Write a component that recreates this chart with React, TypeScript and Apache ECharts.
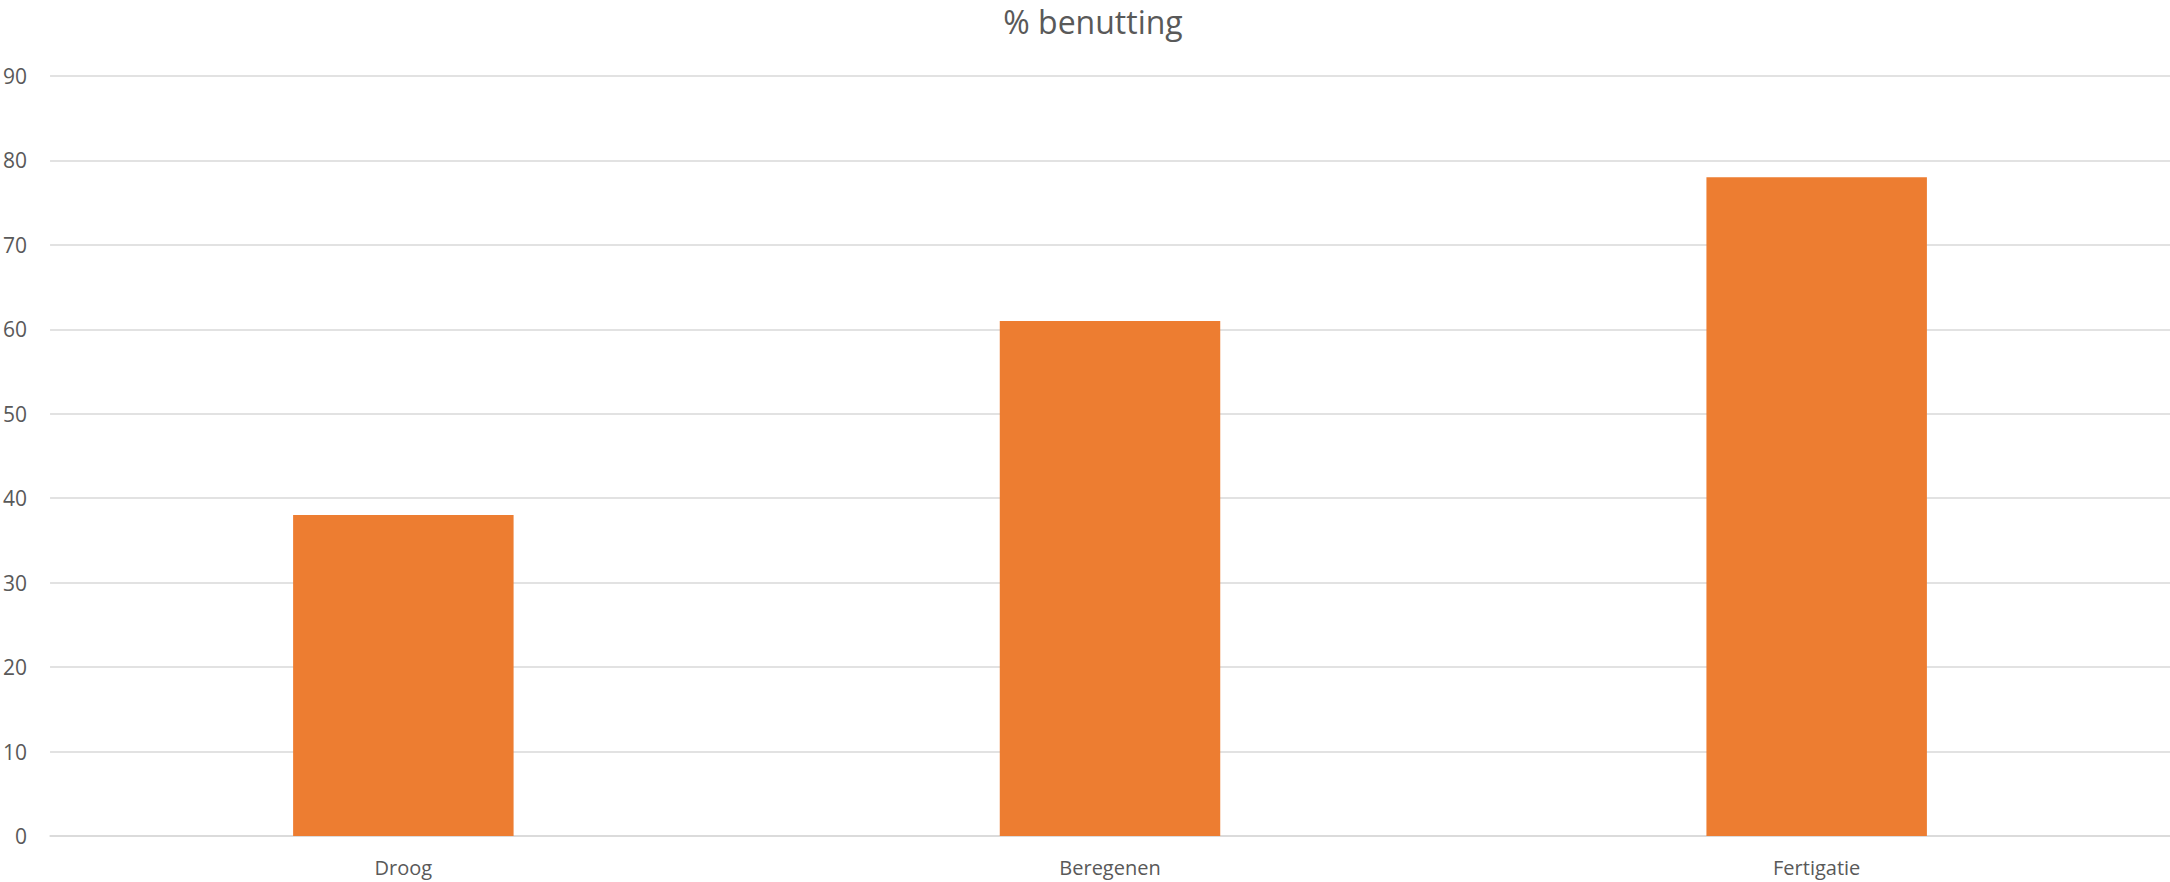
import React, { useEffect, useRef } from "react";
import * as echarts from "echarts";

const titleText = "% benutting";
const categories = ["Droog", "Beregenen", "Fertigatie"];
const values = [38, 61, 78];
const yMin = 0;
const yMax = 90;
const yInterval = 10;

const FONT = "'Open Sans', 'Noto Sans', sans-serif";
const TEXT = "#595959";
const GRID = "#d9d9d9";
const BAR = "#ED7D31";

export default function App() {
  const ref = useRef<HTMLDivElement | null>(null);
  useEffect(() => {
    if (!ref.current) return;
    const chart = echarts.init(ref.current, undefined, { renderer: "svg" });
    chart.setOption({
      animation: false,
      backgroundColor: "#ffffff",
      textStyle: { fontFamily: FONT },
      graphic: [
        {
          type: "text",
          x: 1093,
          y: 21,
          style: {
            text: titleText,
            fontFamily: FONT,
            fontSize: 32,
            fill: TEXT,
            textAlign: "center",
            textVerticalAlign: "middle",
          },
        },
      ],
      grid: { left: 48, right: 0, top: 76, bottom: 46, containLabel: false },
      xAxis: {
        type: "category",
        data: categories,
        axisLine: { show: true, lineStyle: { color: GRID, width: 1.5 } },
        axisTick: { show: false },
        axisLabel: { color: TEXT, fontSize: 20, fontFamily: FONT, margin: 21 },
        splitLine: { show: false },
      },
      yAxis: {
        type: "value",
        min: yMin,
        max: yMax,
        interval: yInterval,
        axisLine: { show: false },
        axisTick: { show: false },
        axisLabel: { color: TEXT, fontSize: 21, fontFamily: FONT, margin: 23 },
        splitLine: { show: true, lineStyle: { color: GRID, width: 1.5 } },
      },
      series: [
        {
          type: "bar",
          data: values,
          barWidth: "31.2%",
          itemStyle: { color: BAR },
        },
      ],
    });
    return () => chart.dispose();
  }, []);
  return (
    <div
      ref={ref}
      style={{ position: "fixed", left: 0, top: 0, width: 2170, height: 882, background: "#fff" }}
    />
  );
}
